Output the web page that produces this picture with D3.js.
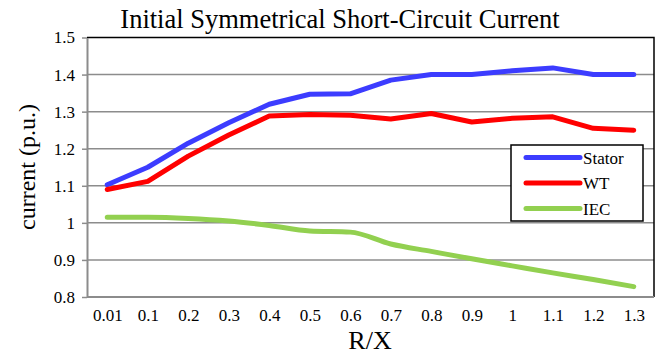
<!DOCTYPE html>
<html>
<head>
<meta charset="utf-8">
<script src="https://cdn.jsdelivr.net/npm/d3@7"></script>
<style>
  body { margin: 0; background: #fff; }
  svg text { font-family: "Liberation Serif", "Times New Roman", serif !important; fill: #000; }
</style>
</head>
<body>
<div id="chart"></div>
<script>
const categories = ["0.01", "0.1", "0.2", "0.3", "0.4", "0.5", "0.6", "0.7", "0.8", "0.9", "1", "1.1", "1.2", "1.3"];
const stator = [1.103, 1.15, 1.215, 1.27, 1.32, 1.347, 1.348, 1.385, 1.40, 1.40, 1.41, 1.418, 1.40, 1.40];
const wt = [1.09, 1.112, 1.18, 1.237, 1.288, 1.292, 1.29, 1.28, 1.295, 1.272, 1.282, 1.286, 1.255, 1.25];
const iec = [1.015, 1.015, 1.012, 1.005, 0.993, 0.978, 0.975, 0.943, 0.923, 0.903, 0.884, 0.865, 0.847, 0.828];
const yTicks = [0.8, 0.9, 1, 1.1, 1.2, 1.3, 1.4, 1.5];

const width = 659, height = 354;
const margin = { top: 37.5, right: 5, bottom: 57, left: 87 };

const svg = d3.select("#chart").append("svg")
  .attr("width", width).attr("height", height);

const x = d3.scalePoint()
  .domain(categories)
  .range([margin.left, width - margin.right])
  .padding(0.5);

const y = d3.scaleLinear()
  .domain([0.8, 1.5])
  .range([height - margin.bottom, margin.top]);

// gridlines
svg.append("g")
  .selectAll("line")
  .data(yTicks.slice(1, -1))
  .join("line")
  .attr("x1", margin.left).attr("x2", width - margin.right)
  .attr("y1", d => y(d)).attr("y2", d => y(d))
  .attr("stroke", "#8c8c8c").attr("stroke-width", 1.5);

// frame (top + right black)
svg.append("path")
  .attr("d", `M${margin.left},${y(1.5)}H${width - margin.right}V${y(0.8)}`)
  .attr("fill", "none").attr("stroke", "#000").attr("stroke-width", 1.5);

// y axis
const yAxis = svg.append("g")
  .attr("transform", `translate(${margin.left},0)`)
  .call(d3.axisLeft(y).tickValues(yTicks).tickFormat(d3.format("")).tickSize(5).tickPadding(7).tickSizeOuter(0));
yAxis.select(".domain").attr("stroke", "#8c8c8c").attr("stroke-width", 2);
yAxis.selectAll(".tick line").attr("stroke", "#8c8c8c").attr("stroke-width", 1.5);
yAxis.selectAll(".tick text").style("font-size", "17px");

// x axis
const xAxis = svg.append("g")
  .attr("transform", `translate(0,${height - margin.bottom})`)
  .call(d3.axisBottom(x).tickSize(0).tickPadding(12).tickSizeOuter(0));
xAxis.select(".domain")
  .attr("d", `M${margin.left},0H${width - margin.right}`)
  .attr("stroke", "#8c8c8c").attr("stroke-width", 2);
xAxis.selectAll(".tick text").style("font-size", "17px");

// lines
const series = [
  { name: "Stator", values: stator, color: "#3c3cff", curve: d3.curveLinear },
  { name: "WT", values: wt, color: "#ff0000", curve: d3.curveLinear },
  { name: "IEC", values: iec, color: "#92d050", curve: d3.curveMonotoneX }
];

series.forEach(s => {
  const line = d3.line()
    .x((d, i) => x(categories[i]))
    .y(d => y(d))
    .curve(s.curve);
  svg.append("path")
    .datum(s.values)
    .attr("fill", "none")
    .attr("stroke", s.color)
    .attr("stroke-width", 5)
    .attr("stroke-linejoin", "round")
    .attr("stroke-linecap", "round")
    .attr("d", line);
});

// legend
const legend = svg.append("g").attr("transform", "translate(511,145)");
legend.append("rect")
  .attr("width", 132).attr("height", 76)
  .attr("fill", "#fff").attr("stroke", "#000").attr("stroke-width", 1.5);
series.forEach((s, i) => {
  const gy = 12.5 + i * 25.5;
  legend.append("line")
    .attr("x1", 15).attr("x2", 69).attr("y1", gy).attr("y2", gy)
    .attr("stroke", s.color).attr("stroke-width", 5).attr("stroke-linecap", "round");
  legend.append("text")
    .attr("x", 72).attr("y", gy + 6)
    .style("font-size", "17px").text(s.name);
});

// titles
svg.append("text")
  .attr("x", 340).attr("y", 28)
  .attr("text-anchor", "middle")
  .style("font-size", "26.5px")
  .text("Initial Symmetrical Short-Circuit Current");

svg.append("text")
  .attr("x", 370).attr("y", 349)
  .attr("text-anchor", "middle")
  .style("font-size", "26px")
  .text("R/X");

svg.append("text")
  .attr("transform", "translate(35,167) rotate(-90)")
  .attr("text-anchor", "middle")
  .style("font-size", "24px")
  .text("current (p.u.)");
</script>
</body>
</html>
